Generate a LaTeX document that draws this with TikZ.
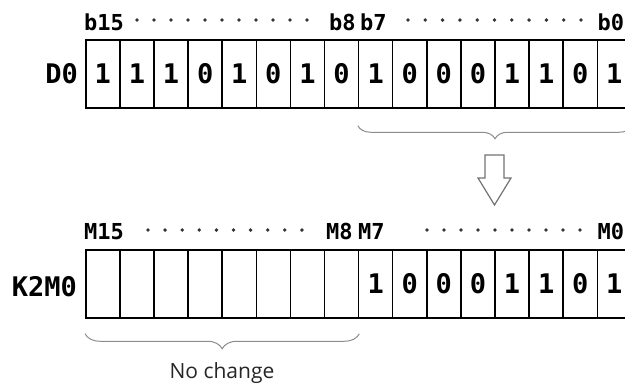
\documentclass[tikz,border=0pt]{standalone}
\usepackage{fontspec}
\newfontfamily\gfont{DejaVu Sans Mono}
\newfontfamily\ofont{Open Sans}
\usetikzlibrary{calc,decorations.pathreplacing}
\begin{document}
\begin{tikzpicture}[x=1pt,y=-1pt,
  cell/.style={draw=black,line width=1.5pt,minimum width=34.1pt,minimum height=68pt,inner sep=0pt,
    font=\gfont\bfseries\fontsize{27}{27}\selectfont},
  lab/.style={inner sep=0pt,anchor=base west,font=\gfont\bfseries\fontsize{22}{22}\selectfont},
  reg/.style={inner sep=0pt,anchor=east,font=\gfont\bfseries\fontsize{27}{27}\selectfont},
  dotm/.style={fill=black!80,draw=none},
  bracem/.style={draw=black!45,line width=1pt,decorate,decoration={brace,mirror,amplitude=#1}}
]
\useasboundingbox (0,0) rectangle (625,384);
\clip (0,0) rectangle (625,384);
% D0 row
\node[reg] (dlab) at (78,74) {D0};
\foreach \k/\v in {0/1,1/1,2/1,3/0,4/1,5/0,6/1,7/0,8/1,9/0,10/0,11/0,12/1,13/1,14/0,15/1}{
  \node[cell] (d\k) at ({102.85+34.1*\k},74) {\v};
}
\node[lab] (b15) at (84,30) {b15};
\node[lab] (b8) at (329,30) {b8};
\node[lab] (b7) at (360,30) {b7};
\node[lab] (b0) at (597.5,30) {b0};
\foreach \i in {0,...,10}{\fill[dotm] ({137+17*\i},20) circle (1.9);}
\foreach \i in {0,...,10}{\fill[dotm] ({408+17.3*\i},20) circle (1.9);}
% brace and arrow
\draw[bracem=13] ($(d8.south west)+(0,17)$) -- ($(d15.south east)+(0,17)$);
\draw[black!55,line width=1.2pt,fill=white] (485,155) -- (504,155) -- (504,178) -- (511,178)
  -- (494.5,205) -- (478,178) -- (485,178) -- cycle;
% K2M0 row
\node[reg] (mlab) at (77,287) {K2M0};
\foreach \k/\v in {0/,1/,2/,3/,4/,5/,6/,7/,8/1,9/0,10/0,11/0,12/1,13/1,14/0,15/1}{
  \node[cell] (m\k) at ({102.85+34.1*\k},284) {\v};
}
\node[lab] (m15l) at (84,239) {M15};
\node[lab] (m8l) at (326,239) {M8};
\node[lab] (m7l) at (358,239) {M7};
\node[lab] (m0l) at (597.5,239) {M0};
\foreach \i in {0,...,9}{\fill[dotm] ({148+17.1*\i},230) circle (1.9);}
\foreach \i in {0,...,9}{\fill[dotm] ({427+17*\i},230) circle (1.9);}
\draw[bracem=15] ($(m0.south west)+(0,15)$) -- ($(m7.south east)+(0,15)$);
\node[inner sep=0pt,anchor=base,font=\ofont\fontsize{21}{21}\selectfont,text=black!85] (nc) at (222,378) {No change};
\end{tikzpicture}
\end{document}
